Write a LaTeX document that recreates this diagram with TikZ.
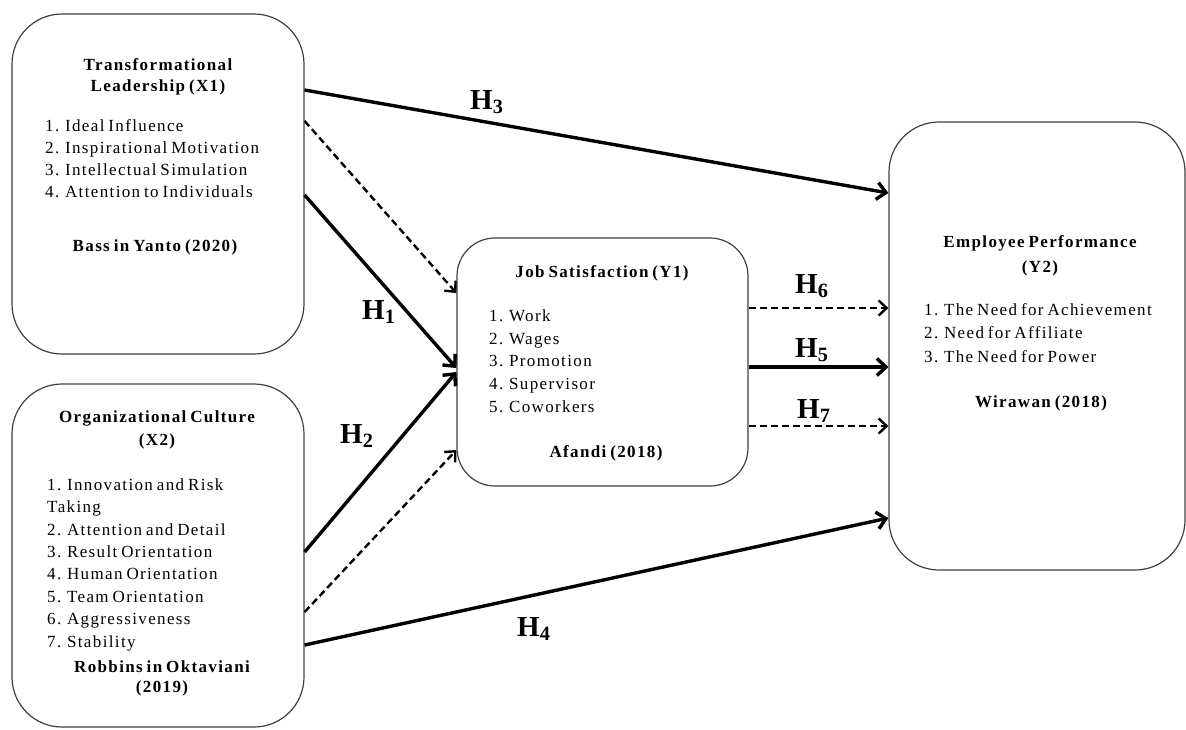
\documentclass[tikz,border=0pt]{standalone}
\usepackage{fontspec}
\setmainfont{Liberation Serif}[LetterSpace=8,WordSpace=0.7]
\newfontfamily\hfont{Liberation Serif}
\usetikzlibrary{arrows.meta}
\begin{document}
\begin{tikzpicture}[x=1pt,y=-1pt,
  box/.style={draw=black!75, line width=1.2pt, rounded corners=#1, inner sep=0},
  box/.default=45pt,
  txt/.style={inner sep=0, anchor=north west, align=left, font=\fontsize{17}{#1}\selectfont},
  txt/.default=22,
  ttl/.style={inner sep=0, anchor=north, align=center, font=\fontsize{17}{#1}\selectfont\bfseries},
  ttl/.default=22,
  sol/.style={line width=3.4pt, -{Straight Barb[length=9pt,width=17pt]}},
  dsh/.style={line width=2.4pt, dash pattern=on 7pt off 4pt, -{Straight Barb[length=8pt,width=15pt]}},
  hl/.style={inner sep=0, anchor=base west, font=\hfont\fontsize{29}{30}\selectfont\bfseries}]
\path[use as bounding box] (0,0) rectangle (1186,729);

% boxes
\node[box=50pt, minimum width=292pt, minimum height=340pt] (x1) at (158,184) {};
\node[box=50pt, minimum width=292pt, minimum height=343pt] (x2) at (158,555.5) {};
\node[box=38pt, minimum width=291pt, minimum height=248pt] (y1) at (602.5,362) {};
\node[box=50pt, minimum width=296pt, minimum height=448pt] (y2) at (1037,346) {};

% X1 texts
\node[ttl=21] (x1t) at (158,58.3) {Transformational\\Leadership (X1)};
\node[txt=22] (x1l) at (45,119.3) {1. Ideal Influence\\2. Inspirational Motivation\\3. Intellectual Simulation\\4. Attention to Individuals};
\node[ttl] (x1s) at (155,239.3) {Bass in Yanto (2020)};

% X2 texts
\node[ttl=23] (x2t) at (157,410.3) {Organizational Culture\\(X2)};
\node[txt=22.4] (x2l) at (47,478.3) {1. Innovation and Risk\\Taking\\2. Attention and Detail\\3. Result Orientation\\4. Human Orientation\\5. Team Orientation\\6. Aggressiveness\\7. Stability};
\node[ttl=20] (x2s) at (162,660.3) {Robbins in Oktaviani\\(2019)};

% Y1 texts
\node[ttl] (y1t) at (602,265.3) {Job Satisfaction (Y1)};
\node[txt=22.75] (y1l) at (489,309.3) {1. Work\\2. Wages\\3. Promotion\\4. Supervisor\\5. Coworkers};
\node[ttl] (y1s) at (606,445.3) {Afandi (2018)};

% Y2 texts
\node[ttl=25] (y2t) at (1040,235.3) {Employee Performance\\(Y2)};
\node[txt=23.5] (y2l) at (924,303.3) {1. The Need for Achievement\\2. Need for Affiliate\\3. The Need for Power};
\node[ttl] (y2s) at (1041,395.3) {Wirawan (2018)};

% connectors
\draw[sol] (x1.east |- 0,90) -- (y2.west |- 0,193);
\draw[dsh] (x1.east |- 0,121) -- (y1.west |- 0,293);
\draw[sol] (x1.east |- 0,195) -- (y1.west |- 0,368);
\draw[sol] (x2.east |- 0,552) -- (y1.west |- 0,372);
\draw[dsh] (x2.east |- 0,612) -- (y1.west |- 0,450);
\draw[sol] (x2.east |- 0,645) -- (y2.west |- 0,518);
\draw[dsh] (y1.east |- 0,308) -- (y2.west |- 0,308);
\draw[sol] (y1.east |- 0,367) -- (y2.west |- 0,367);
\draw[dsh] (y1.east |- 0,426) -- (y2.west |- 0,426);

% hypothesis labels
\node[hl] (h3) at (470,109) {H\textsubscript{3}};
\node[hl] (h1) at (362,319) {H\textsubscript{1}};
\node[hl] (h2) at (340,443) {H\textsubscript{2}};
\node[hl] (h4) at (517,636) {H\textsubscript{4}};
\node[hl] (h6) at (795,293) {H\textsubscript{6}};
\node[hl] (h5) at (795,357) {H\textsubscript{5}};
\node[hl] (h7) at (797,418) {H\textsubscript{7}};
\end{tikzpicture}
\end{document}
